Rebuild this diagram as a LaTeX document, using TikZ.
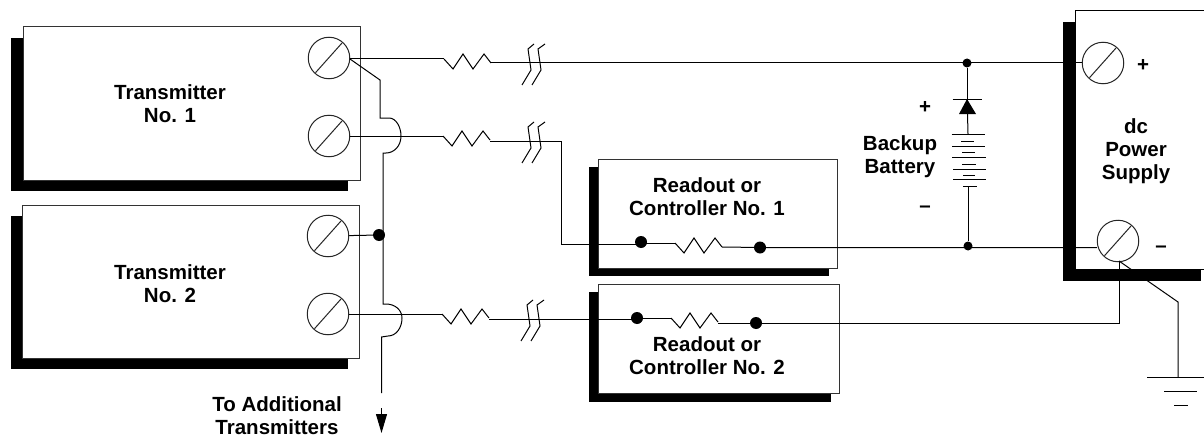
\documentclass[tikz,border=0pt]{standalone}
\usepackage{fontspec}
\setmainfont{Liberation Sans}
\usetikzlibrary{arrows.meta}
\tikzset{
  wire/.style={draw=black,line width=1pt,line join=miter},
  shadowbox/.style={fill=black},
  whitebox/.style={draw=black!80,line width=1pt,fill=white,inner sep=0pt},
  terminal/.style={circle,draw=black!85,line width=1pt,fill=white,inner sep=0pt,minimum size=41.5pt,
    path picture={\draw[line width=1pt,black!85] (path picture bounding box.center)+(-13.5,14.7) -- +(13,-15);}},
  bigdot/.style={circle,fill=black,inner sep=0pt,minimum size=12pt},
  smalldot/.style={circle,fill=black,inner sep=0pt,minimum size=9pt},
  lbl/.style={font=\bfseries\fontsize{20.5}{23}\selectfont,align=center,inner sep=0pt},
  resistor/.pic={\draw[wire] (0,0) -- (9,10) -- (19,-5) -- (29,10) -- (40,-5) -- (47,4);},
  breakmark/.pic={\draw[wire] (12,-19) -- (6,-14) -- (9,7) -- (0,22) (23,-19) -- (16,-14) -- (19,7) -- (10,22);}
}
\begin{document}
\begin{tikzpicture}[x=1pt,y=-1pt]
\useasboundingbox (0,0) rectangle (1204,436);
% shadows
\fill[shadowbox] (11,38) rectangle (348,191);
\fill[shadowbox] (11,216) rectangle (348,369);
\fill[shadowbox] (589,167) rectangle (829,276);
\fill[shadowbox] (589,292) rectangle (831,402);
\fill[shadowbox] (1063,22) rectangle (1201,281);
% boxes
\node[whitebox,minimum width=337pt,minimum height=153pt] (tx1) at (191.5,103.5) {};
\node[whitebox,minimum width=337pt,minimum height=153pt] (tx2) at (190.5,281.5) {};
\node[whitebox,minimum width=239pt,minimum height=109pt] (ro1) at (717.5,213.5) {};
\node[whitebox,minimum width=241pt,minimum height=109pt] (ro2) at (718.5,338.5) {};
\node[fill=white,inner sep=0pt,minimum width=128pt,minimum height=258pt] (psu) at (1140,140) {};
\draw[wire] (psu.north east) -- (psu.north west) -- (psu.south west) -- (psu.south east);
% terminals
\node[terminal] (t1a) at (329,58) {};
\node[terminal] (t1b) at (329,136) {};
\node[terminal] (t2a) at (328,236) {};
\node[terminal] (t2b) at (328,314) {};
\node[terminal] (pp) at (1103,63) {};
\node[terminal] (pm) at (1118,241) {};
% coordinates
\coordinate (r1) at (444,59);
\coordinate (r1e) at (491,63);
\coordinate (r2) at (443,136);
\coordinate (r2e) at (490,141);
\coordinate (r3) at (442,314);
\coordinate (r3e) at (489,319);
\coordinate (tap) at (350,59);
\coordinate (kneeA) at (380,80);
\coordinate (hopA) at (380,118);
\coordinate (hopAe) at (383,153);
\coordinate (hopB) at (383,304);
\coordinate (hopBe) at (381.5,337);
\coordinate (railEnd) at (381.5,393);
\coordinate (tipStart) at (381.5,408);
\coordinate (tipEnd) at (381.5,433);
\coordinate (ro1in) at (561,141);
\coordinate (ro1turn) at (561,244);
\coordinate (pmbase) at (1119,261);
\coordinate (gndKnee) at (1178,302);
\coordinate (gnd) at (1178,377);
% dots
\node[bigdot] (j1) at (379,235) {};
\node[smalldot] (jtop) at (967,63) {};
\node[smalldot] (jbot) at (968,246) {};
\node[bigdot] (d1a) at (641,242) {};
\node[bigdot] (d1b) at (760,247.5) {};
\node[bigdot] (d2a) at (637,318) {};
\node[bigdot] (d2b) at (756,323) {};
% resistors in boxes
\coordinate (r4) at (675,243);
\coordinate (r4e) at (722,247);
\coordinate (r5) at (671,318);
\coordinate (r5e) at (718,323);
\pic at (r1) {resistor};
\pic at (r2) {resistor};
\pic at (r3) {resistor};
\pic at (r4) {resistor};
\pic at (r5) {resistor};
\pic at (522,63) {breakmark};
\pic at (522,141) {breakmark};
\pic at (521,319) {breakmark};
% wires
\draw[wire] (t1a.east |- tap) -- (r1);
\draw[wire] (r1e) -- (pp.west |- r1e);
\draw[wire] (t1b) -- (r2);
\draw[wire] (r2e) -- (ro1in) -- (ro1turn) -- (d1a.center |- ro1turn);
\draw[wire] (d1a |- r4) -- (r4);
\draw[wire] (r4e) -- (d1b) -- (pm.west |- d1b);
\draw[wire] (t2a) -- (j1);
\draw[wire] (t2b) -- (r3);
\draw[wire] (r3e) -- (d2a |- r3e);
\draw[wire] (d2a) -- (r5);
\draw[wire] (r5e) -- (d2b) -- (pmbase |- d2b) -- (pmbase);
\draw[wire] (tap) -- (kneeA) -- (hopA) -- ++(9,0) .. controls +(7,0) and (401,127) .. (401,136) .. controls (401,146) and (394,153) .. (386,153) -- (hopAe) -- (hopB) -- ++(3,0) .. controls (395,304) and (402,310) .. (402,318) .. controls (402,328) and (396,336) .. (388,336) -- (hopBe) -- (railEnd);
\draw[wire,-{Triangle[width=11pt,length=19pt]}] (tipStart) -- (tipEnd);
\draw[wire] (pmbase) -- (gndKnee) -- (gnd);
% ground
\draw[wire] (1147,377) -- (1204,377);
\draw[wire] (1164,391) -- (1197,391);
\draw[wire] (1174,405) -- (1188,405);
% battery and diode
\coordinate (dbar) at (967,99);
\coordinate (dbase) at (967.5,114);
\coordinate (bat) at (968,134);
\coordinate (batm) at (968,186);
\draw[wire] (jtop) -- (dbar);
\draw[wire] (dbar) ++(-14.5,0) -- ++(29,0);
\fill (dbar) -- (976,114) -- (959,114) -- cycle;
\draw[wire] (dbase) -- (bat);
\draw[wire] (951.5,134) -- (985,134);
\draw[wire] (961,141) -- (974,141);
\draw[wire] (952,146) -- (985,146);
\draw[wire] (962,152) -- (975,152);
\draw[wire] (952,157) -- (985.5,157);
\draw[wire] (962,164) -- (975.5,164);
\draw[wire] (953,169) -- (986,169);
\draw[wire] (963,175) -- (975,175);
\draw[wire] (953,179) -- (986,179);
\draw[wire] (963,186) -- (976.5,186);
\draw[wire] (batm) -- (jbot);
% labels
\node[lbl] (ltx1) at (170,104) {Transmitter\\No. 1};
\node[lbl] (ltx2) at (170,284) {Transmitter\\No. 2};
\node[lbl] (lro1) at (707,197) {Readout or\\Controller No. 1};
\node[lbl] (lro2) at (707,356) {Readout or\\Controller No. 2};
\node[lbl] (lto) at (277,416) {To Additional\\Transmitters};
\node[lbl] (lbat) at (900,157) {Backup\\Battery};
\node[lbl] (lpsu) at (1136,151) {dc\\Power\\Supply};
\node[lbl] (lpp) at (1143,65) {+};
\node[lbl] (lpm) at (1161,249) {--};
\node[lbl] (lbp) at (925,107) {+};
\node[lbl] (lbm) at (925,209) {--};
\end{tikzpicture}
\end{document}
